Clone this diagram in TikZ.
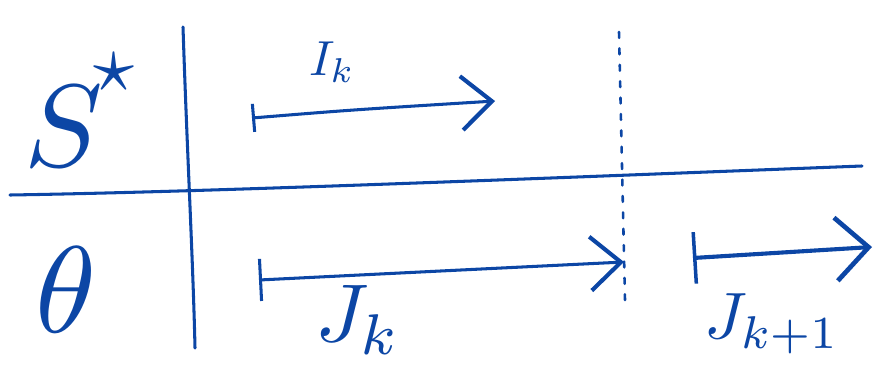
\documentclass[tikz,border=0pt]{standalone}
\usetikzlibrary{arrows.meta}
\definecolor{ink}{RGB}{12,70,165}
\begin{document}
\begin{tikzpicture}[x=0.03cm,y=-0.03cm,
  pen/.style={draw=ink,line width=2.6pt,line cap=round},
  lbl/.style={text=ink,inner sep=0pt},
  fine/.style={draw=ink,line width=2.2pt,dash pattern=on 5pt off 9pt,line cap=round}]
\useasboundingbox (0,0) rectangle (875,366);
% axes
\coordinate (vt) at (183,27);
\coordinate (vb) at (195,348);
\coordinate (hl) at (10,195);
\coordinate (hr) at (862,166);
\draw[pen] (vt) .. controls (187,150) and (193,260) .. (vb);
\draw[pen] (hl) .. controls (200,192) and (500,180) .. (hr);
% dotted separator
\coordinate (dt) at (619,32);
\coordinate (db) at (625,300);
\draw[fine] (dt) -- (db);
% row labels
\node[lbl] (S) at (64,126) {\scalebox{10}{$S$}};
\node[lbl] (star) at (114,72) {\scalebox{7}{$\star$}};
\node[lbl] (th) at (66,290) {\scalebox{10.5}{$\theta$}};
% I_k
\coordinate (ia) at (252,118);
\coordinate (ib) at (495,101);
\draw[pen,{Bar[width=24pt,line width=2.6pt]}-{Straight Barb[length=26pt,width=46pt,line width=3.5pt]}] (ia) .. controls (350,110) .. (ib);
\node[lbl] (Ik) at (332,62) {\scalebox{4.2}{$I_k$}};
% J_k
\coordinate (ja) at (259,280);
\coordinate (jb) at (624,262);
\draw[pen,{Bar[width=36pt,line width=2.6pt]}-{Straight Barb[length=26pt,width=46pt,line width=3.5pt]}] (ja) .. controls (420,272) .. (jb);
\node[lbl] (Jk) at (358,320) {\scalebox{7}{$J_k$}};
% J_{k+1}
\coordinate (ka) at (693,258);
\coordinate (kb) at (872,247);
\draw[pen,line width=3.5pt,{Bar[width=44pt,line width=3pt]}-{Straight Barb[length=28pt,width=54pt,line width=4pt]}] (ka) -- (kb);
\node[lbl] (Jk1) at (772,324) {\scalebox{5.6}{$J_{k+1}$}};
\end{tikzpicture}
\end{document}
